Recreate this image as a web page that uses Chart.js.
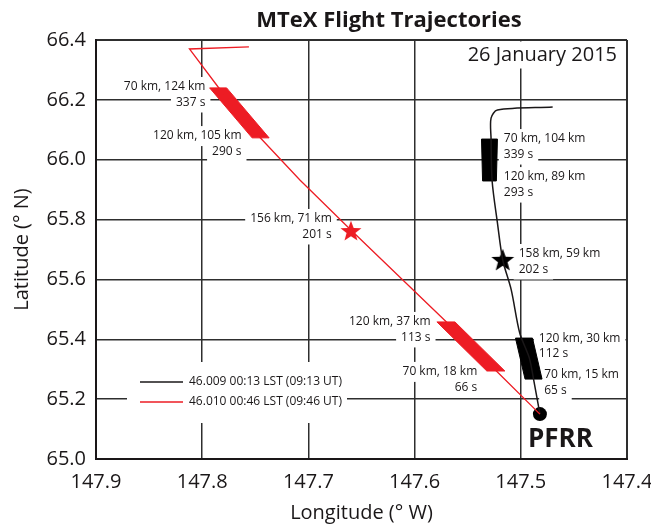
<!DOCTYPE html>
<html><head><meta charset="utf-8">
<script src="https://cdn.jsdelivr.net/npm/chart.js@4/dist/chart.umd.min.js"></script>
<style>html,body{margin:0;padding:0;background:#fff}#wrap{width:651px;height:527px}</style>
</head><body><div id="wrap"><canvas id="c" width="651" height="527"></canvas></div>
<script>
// ---------- data ----------
const chartTitle = 'MTeX Flight Trajectories';
const dateText = '26 January 2015';
const xTitle = 'Longitude (° W)';
const yTitle = 'Latitude (° N)';
const xTicks = [147.4, 147.5, 147.6, 147.7, 147.8, 147.9];
const yTicks = [65.0, 65.2, 65.4, 65.6, 65.8, 66.0, 66.2, 66.4];

const seriesNames = ['46.009 00:13 LST (09:13 UT)', '46.010 00:46 LST (09:46 UT)'];

// black flight (46.009)
const blackLon = [147.470, 147.522, 147.528, 147.528, 147.527, 147.522, 147.517, 147.509, 147.501, 147.492, 147.488, 147.482];
const blackLat = [66.176, 66.166, 66.139, 66.069, 65.929, 65.789, 65.665, 65.565, 65.421, 65.338, 65.267, 65.150];
// red flight (46.010)
const redLon = [147.756, 147.812, 147.785, 147.746, 147.708, 147.660, 147.570, 147.523, 147.482];
const redLat = [66.377, 66.370, 66.243, 66.076, 65.932, 65.765, 65.458, 65.294, 65.150];

// measurement segments (corners)
const redSeg1Lon = [147.793, 147.777, 147.737, 147.753];
const redSeg1Lat = [66.240, 66.240, 66.073, 66.073];
const redSeg2Lon = [147.579, 147.562, 147.515, 147.532];
const redSeg2Lat = [65.458, 65.458, 65.294, 65.294];
const blackSeg1Lon = [147.537, 147.522, 147.523, 147.536];
const blackSeg1Lat = [66.069, 66.069, 65.929, 65.929];
const blackSeg2Lon = [147.505, 147.489, 147.480, 147.496];
const blackSeg2Lat = [65.404, 65.404, 65.267, 65.267];

// apogee stars and launch site
const redApogee = [147.660, 65.762];
const blackApogee = [147.517, 65.665];
const pfrr = [147.482, 65.150];
const siteName = 'PFRR';

// annotation texts: [lon, lat, align, line1, line2]
const notes = [
  [147.797, 66.243, 'right', '70 km, 124 km', '337 s'],
  [147.763, 66.079, 'right', '120 km, 105 km', '290 s'],
  [147.678, 65.802, 'right', '156 km, 71 km', '201 s'],
  [147.585, 65.458, 'right', '120 km, 37 km', '113 s'],
  [147.541, 65.291, 'right', '70 km, 18 km', '66 s'],
  [147.516, 66.069, 'left', '70 km, 104 km', '339 s'],
  [147.516, 65.942, 'left', '120 km, 89 km', '293 s'],
  [147.502, 65.685, 'left', '158 km, 59 km', '202 s'],
  [147.483, 65.404, 'left', '120 km, 30 km', '112 s'],
  [147.478, 65.281, 'left', '70 km, 15 km', '65 s']
];

// ---------- styling ----------
const RED = 'rgb(237,28,36)';
const INK = '#1a1718';
const GRID = '#2e2e2e';
const FONT = '"Open Sans", "DejaVu Sans", sans-serif';

const pts = (lons, lats) => lons.map((v, i) => ({x: v, y: lats[i]}));
const closed = (lons, lats) => { const p = pts(lons, lats); p.push(p[0]); return p; };

function starImg(color, size) {
  const c = document.createElement('canvas');
  c.width = size; c.height = size;
  const g = c.getContext('2d');
  const R = size / 2, r = R * 0.42, cy = R * 1.06;
  g.beginPath();
  for (let i = 0; i < 10; i++) {
    const a = -Math.PI / 2 + i * Math.PI / 5;
    const rad = i % 2 ? r : R;
    g.lineTo(R + rad * Math.cos(a), cy + rad * Math.sin(a));
  }
  g.closePath();
  g.fillStyle = color;
  g.fill();
  return c;
}

const annot = {
  id: 'annot',
  beforeDatasetsDraw(chart) {
    const {ctx, chartArea: a, scales: {x, y}} = chart;
    ctx.save();
    // date text
    ctx.font = '20px ' + FONT;
    const dw = ctx.measureText(dateText).width;
    ctx.fillStyle = '#fff';
    ctx.fillRect(a.right - 16 - dw, a.top + 1.5, dw + 12, 27);
    ctx.fillStyle = INK;
    ctx.textAlign = 'right';
    ctx.textBaseline = 'alphabetic';
    ctx.fillText(dateText, a.right - 10, a.top + 21);

    // notes
    ctx.font = '12px ' + FONT;
    ctx.textBaseline = 'middle';
    for (const [lon, lat, al, l1, l2] of notes) {
      const px = x.getPixelForValue(lon), py = y.getPixelForValue(lat);
      [l1, l2].forEach((t, i) => {
        const w = ctx.measureText(t).width;
        const tx = al === 'right' ? px - w : px;
        ctx.fillStyle = '#fff';
        ctx.fillRect(tx - 5, py + i * 15.5 - 10, w + 10, 20);
      });
      [l1, l2].forEach((t, i) => {
        ctx.fillStyle = INK;
        ctx.textAlign = al;
        ctx.fillText(t, px, py + i * 15.5);
      });
    }

    // legend
    const lx = a.left + 31, ly = a.bottom - 97;
    ctx.fillStyle = '#fff';
    ctx.fillRect(lx, ly, 220, 61);
    const colors = [INK, RED];
    seriesNames.forEach((n, i) => {
      const yy = a.bottom - 77 + i * 20;
      ctx.strokeStyle = colors[i];
      ctx.lineWidth = 1.6;
      ctx.beginPath();
      ctx.moveTo(a.left + 44, yy);
      ctx.lineTo(a.left + 87, yy);
      ctx.stroke();
      ctx.fillStyle = INK;
      ctx.textAlign = 'left';
      ctx.fillText(n, a.left + 93, yy);
    });
    ctx.restore();
  },
  afterDatasetsDraw(chart) {
    const {ctx, chartArea: a, scales: {x, y}} = chart;
    ctx.save();
    ctx.fillStyle = INK;
    ctx.font = 'bold 26px ' + FONT;
    ctx.textAlign = 'left';
    ctx.textBaseline = 'alphabetic';
    ctx.fillText(siteName, x.getPixelForValue(pfrr[0]) - 12, y.getPixelForValue(pfrr[1]) + 33);
    ctx.font = 'bold 22px ' + FONT;
    ctx.textAlign = 'center';
    ctx.fillText(chartTitle, 389, 27);
    ctx.restore();
  }
};

const lineDs = (data, color, width, tension) => ({
  data, borderColor: color, borderWidth: width, pointRadius: 0, fill: false, tension
});
const polyDs = (data, color) => ({
  data, borderColor: color, backgroundColor: color, borderWidth: 1, pointRadius: 0, fill: 'shape', tension: 0
});
const markDs = (p, style, radius, color) => ({
  data: [{x: p[0], y: p[1]}], showLine: false, pointStyle: style, pointRadius: radius,
  backgroundColor: color, borderColor: color, borderWidth: 0
});

const gridWidth = n => c => (c.index === 0 || c.index === n - 1) ? 2 : 1.5;

new Chart(document.getElementById('c'), {
  type: 'line',
  data: {
    datasets: [
      lineDs(pts(redLon, redLat), RED, 1.3, 0),
      lineDs(pts(blackLon, blackLat), INK, 1.5, 0.3),
      polyDs(closed(redSeg1Lon, redSeg1Lat), RED),
      polyDs(closed(redSeg2Lon, redSeg2Lat), RED),
      polyDs(closed(blackSeg1Lon, blackSeg1Lat), '#000'),
      polyDs(closed(blackSeg2Lon, blackSeg2Lat), '#000'),
      markDs(redApogee, starImg(RED, 22), 11, RED),
      markDs(blackApogee, starImg('#000', 24), 12, '#000'),
      markDs(pfrr, 'circle', 7, '#000')
    ]
  },
  options: {
    responsive: false,
    devicePixelRatio: 1,
    animation: false,
    events: [],
    layout: {padding: {left: 0, right: 24, top: 40, bottom: 0}},
    plugins: {legend: {display: false}, tooltip: {enabled: false}, title: {display: false}},
    scales: {
      x: {
        type: 'linear', reverse: true, min: 147.4, max: 147.9,
        afterBuildTicks: s => { s.ticks = xTicks.map(v => ({value: v})); },
        afterFit: s => { s.height = 68; s.paddingLeft = 0; s.paddingRight = 0; },
        ticks: {callback: v => Number(v).toFixed(1), font: {family: FONT, size: 20}, color: INK, padding: 11, maxRotation: 0, autoSkip: false},
        grid: {color: GRID, lineWidth: gridWidth(xTicks.length), drawTicks: false},
        border: {display: true, color: INK, width: 2},
        title: {display: true, text: xTitle, font: {family: FONT, size: 20}, color: INK, padding: {top: 0, bottom: 2}}
      },
      y: {
        type: 'linear', min: 65.0, max: 66.4,
        afterBuildTicks: s => { s.ticks = yTicks.map(v => ({value: v})); },
        afterFit: s => { s.width = 96; s.paddingTop = 0; s.paddingBottom = 0; },
        ticks: {callback: v => Number(v).toFixed(1), font: {family: FONT, size: 20}, color: INK, padding: 10, autoSkip: false},
        grid: {color: GRID, lineWidth: gridWidth(yTicks.length), drawTicks: false},
        border: {display: true, color: INK, width: 2},
        title: {display: true, text: yTitle, font: {family: FONT, size: 20}, color: INK, padding: {top: 10, bottom: 0}}
      }
    }
  },
  plugins: [annot]
});
</script>
</body></html>
